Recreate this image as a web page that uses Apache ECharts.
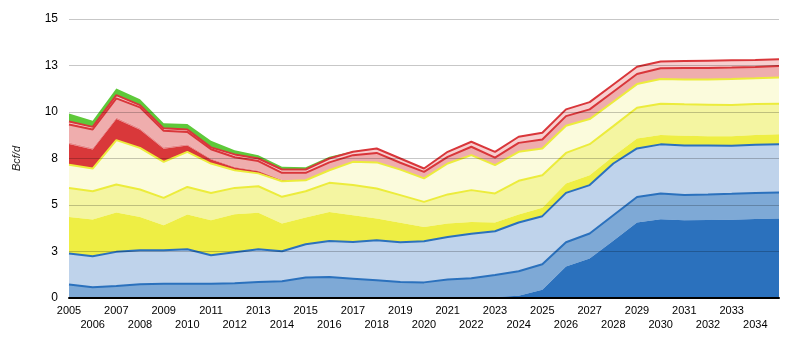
<!DOCTYPE html>
<html>
<head>
<meta charset="utf-8">
<title>Bcf/d</title>
<script src="https://cdn.jsdelivr.net/npm/echarts@6/dist/echarts.min.js"></script>
<style>
  html, body { margin: 0; padding: 0; background: #ffffff; }
  #chart { width: 806px; height: 343px; }
</style>
</head>
<body>
<div id="chart"></div>
<script>
// Years on the category axis (the final year closes the area but carries no label)
const years = ['2005','2006','2007','2008','2009','2010','2011','2012','2013','2014',
               '2015','2016','2017','2018','2019','2020','2021','2022','2023','2024',
               '2025','2026','2027','2028','2029','2030','2031','2032','2033','2034','2035'];

// Y tick labels for 0, 2.5, 5, ... 15
const yTickLabels = ['0','3','5','8','10','13','15'];

// Stacked layers, bottom to top (Bcf/d)
const blueDark = [0,0,0,0,0,0,0,0,0,0,
                  0,0,0,0,0,0,0,0,0.05,0.12,
                  0.45,1.69,2.12,3.08,4.06,4.24,4.18,4.20,4.21,4.25,4.27];
const blueMid = [0.72,0.58,0.65,0.74,0.77,0.77,0.77,0.79,0.86,0.90,
                 1.10,1.13,1.04,0.95,0.86,0.84,0.99,1.06,1.19,1.32,
                 1.36,1.31,1.35,1.37,1.37,1.38,1.36,1.36,1.39,1.40,1.40];
const blueLight = [1.67,1.66,1.83,1.83,1.80,1.85,1.53,1.67,1.76,1.61,
                   1.79,1.94,1.97,2.15,2.14,2.21,2.29,2.40,2.35,2.62,
                   2.59,2.65,2.60,2.78,2.61,2.64,2.66,2.64,2.58,2.59,2.59];
const yellowBright = [1.97,1.98,2.12,1.79,1.34,1.87,1.88,2.04,1.96,1.49,
                      1.44,1.56,1.44,1.17,1.04,0.77,0.72,0.63,0.47,0.43,
                      0.45,0.50,0.53,0.39,0.54,0.50,0.52,0.50,0.51,0.52,0.55];
const yellowMid = [1.56,1.52,1.50,1.47,1.47,1.48,1.47,1.42,1.43,1.44,
                   1.41,1.56,1.62,1.62,1.49,1.35,1.57,1.71,1.56,1.81,
                   1.75,1.65,1.67,1.62,1.65,1.68,1.69,1.69,1.68,1.67,1.63];
const yellowPale = [1.24,1.22,2.39,2.24,1.94,1.89,1.58,0.95,0.69,0.84,
                    0.59,0.68,1.25,1.40,1.37,1.26,1.66,1.88,1.52,1.56,
                    1.44,1.46,1.35,1.31,1.27,1.33,1.34,1.36,1.40,1.38,1.42];
const redDark = [1.12,1.03,1.14,0.97,0.70,0.34,0.22,0.15,0.12,0.05,
                 0,0,0,0,0,0,0,0,0,0,
                 0,0,0,0,0,0,0,0,0,0,0];
const redStripe = [0.08,0.08,0.08,0.08,0.08,0.07,0.05,0.04,0.03,0.02,
                   0,0,0,0,0,0,0,0,0,0,
                   0,0,0,0,0,0,0,0,0,0,0];
const pink = [0.97,0.99,1.02,1.13,0.89,0.66,0.50,0.51,0.51,0.38,
              0.40,0.42,0.36,0.51,0.37,0.35,0.36,0.45,0.41,0.48,
              0.48,0.52,0.52,0.54,0.54,0.58,0.61,0.62,0.62,0.61,0.61];
const pinkLight = [0.16,0.14,0.18,0.12,0.13,0.13,0.10,0.15,0.14,0.18,
                   0.18,0.21,0.18,0.24,0.23,0.18,0.27,0.27,0.31,0.33,
                   0.36,0.36,0.39,0.39,0.39,0.37,0.38,0.39,0.39,0.38,0.36];
const green = [0.43,0.33,0.36,0.32,0.27,0.29,0.35,0.23,0.18,0.14,
               0.12,0.10,0.03,0,0,0,0,0,0,0,
               0,0,0,0,0,0,0,0,0,0,0];

const BLUE_LINE = '#2b71bd';
const YELLOW_LINE = '#ecec3c';
const RED_LINE = '#d9363a';

const layers = [
  { name: 'blueDark',     data: blueDark,     fill: '#2b71bd', line: null },
  { name: 'blueMid',      data: blueMid,      fill: '#7ea9d6', line: BLUE_LINE },
  { name: 'blueLight',    data: blueLight,    fill: '#bfd3eb', line: BLUE_LINE },
  { name: 'yellowBright', data: yellowBright, fill: '#eeee44', line: null },
  { name: 'yellowMid',    data: yellowMid,    fill: '#f4f5a1', line: YELLOW_LINE },
  { name: 'yellowPale',   data: yellowPale,   fill: '#fbfbdc', line: YELLOW_LINE },
  { name: 'redDark',      data: redDark,      fill: '#d9383a', line: null },
  { name: 'redStripe',    data: redStripe,    fill: '#e88a8b', line: null },
  { name: 'pink',         data: pink,         fill: '#efadad', line: RED_LINE },
  { name: 'pinkLight',    data: pinkLight,    fill: '#f7cfcf', line: RED_LINE },
  { name: 'green',        data: green,        fill: '#5ec93a', line: null }
];

const series = layers.map((l, idx) => ({
  name: l.name,
  type: 'line',
  stack: 'total',
  data: l.data,
  symbol: 'none',
  showSymbol: false,
  smooth: false,
  // lower layers sit above upper ones so each boundary line is fully visible
  z: 20 - idx,
  areaStyle: { color: l.fill, opacity: 1 },
  lineStyle: l.line ? { color: l.line, width: 2 } : { width: 0, color: l.fill },
  emphasis: { disabled: true },
  silent: true
}));

const chart = echarts.init(document.getElementById('chart'), null, { renderer: 'canvas' });
chart.setOption({
  animation: false,
  backgroundColor: '#ffffff',
  grid: { left: 69, right: 27, top: 19, bottom: 45, containLabel: false },
  xAxis: {
    type: 'category',
    data: years,
    boundaryGap: false,
    z: 50,
    axisLine: { show: true, lineStyle: { color: '#000000', width: 2 } },
    axisTick: { show: false },
    splitLine: { show: false },
    axisLabel: {
      interval: 0,
      margin: 6,
      color: '#000000',
      fontFamily: 'Liberation Sans, Arial, sans-serif',
      fontSize: 11,
      lineHeight: 14,
      formatter: function (value, index) {
        if (index === years.length - 1) return '';
        return index % 2 === 1 ? '\n' + value : value;
      }
    }
  },
  yAxis: {
    type: 'value',
    min: 0,
    max: 15,
    interval: 2.5,
    z: 50,
    name: 'Bcf/d',
    nameLocation: 'middle',
    nameRotate: 90,
    nameGap: 47,
    nameTextStyle: {
      fontStyle: 'italic',
      fontSize: 11,
      color: '#222222',
      fontFamily: 'Liberation Sans, Arial, sans-serif'
    },
    axisLine: { show: false },
    axisTick: { show: false },
    splitLine: { show: true, lineStyle: { color: 'rgba(0,0,0,0.22)', width: 1 } },
    axisLabel: {
      margin: 11,
      color: '#000000',
      fontFamily: 'Liberation Sans, Arial, sans-serif',
      fontSize: 12,
      formatter: function (value) {
        return yTickLabels[Math.round(value / 2.5)];
      }
    }
  },
  series: series
});
</script>
</body>
</html>
